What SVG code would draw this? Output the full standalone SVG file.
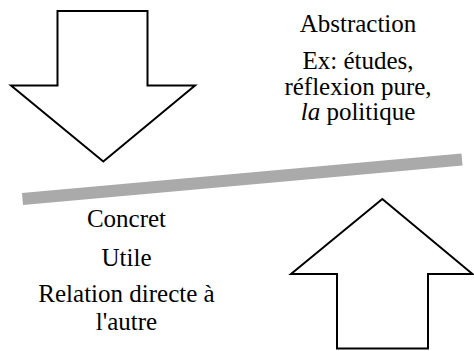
<svg xmlns="http://www.w3.org/2000/svg" width="474" height="351" viewBox="0 0 474 351">
  <style>
    .arrow { fill: #ffffff; stroke: #000000; stroke-width: 2; stroke-linejoin: miter; }
    .bar { stroke: #aaaaaa; stroke-width: 12; stroke-linecap: butt; fill: none; }
    .lbl { font-size: 25px; fill: #000000; text-anchor: middle; }
  </style>
  <rect x="0" y="0" width="474" height="351" fill="#ffffff"/>
  <g id="connectors">
    <line class="bar" x1="22.5" y1="199" x2="462" y2="159.5"/>
  </g>
  <g id="down-arrow">
    <polygon class="arrow" points="57.5,11 147.5,11 147.5,85.5 195,85.5 103.3,161.5 11,85.5 57.5,85.5"/>
  </g>
  <g id="up-arrow">
    <polygon class="arrow" points="382.3,199 472.5,274 428,274 428,348.5 337,348.5 337,274 291,274"/>
  </g>
  <g id="abstraction" font-family="Liberation Serif, DejaVu Serif, serif">
    <text class="lbl" x="358" y="31.7">Abstraction</text>
    <text class="lbl" x="358" y="69">Ex: études,</text>
    <text class="lbl" x="358" y="94.5">réflexion pure,</text>
    <text class="lbl" x="358" y="119.5"><tspan font-style="italic">la</tspan> politique</text>
  </g>
  <g id="concret" font-family="Liberation Serif, DejaVu Serif, serif">
    <text class="lbl" x="126.5" y="226.5">Concret</text>
    <text class="lbl" x="126.5" y="265.5">Utile</text>
    <text class="lbl" x="126.5" y="302">Relation directe à</text>
    <text class="lbl" x="126.5" y="330">l'autre</text>
  </g>
</svg>
